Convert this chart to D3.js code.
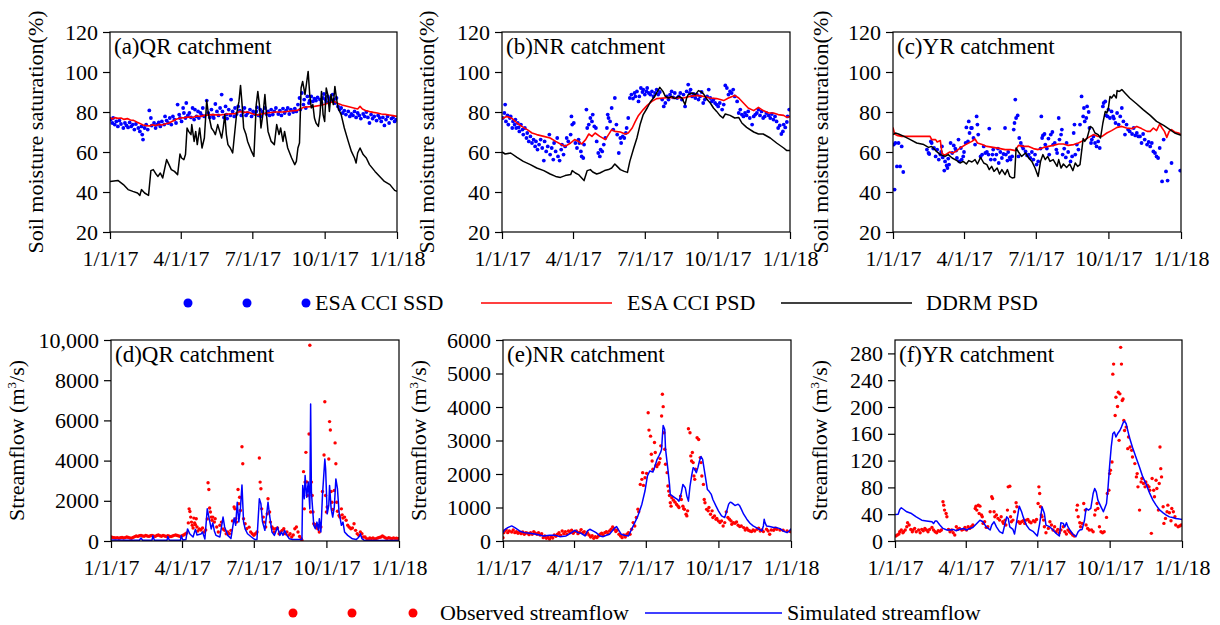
<!DOCTYPE html>
<html><head><meta charset="utf-8">
<script src="https://cdn.jsdelivr.net/npm/d3@7"></script>
</head><body style="margin:0">
<svg id="chart" width="1220" height="625" font-family="&quot;Liberation Serif&quot;" style="font-family:'Liberation Serif'"></svg>
<script>
// ---------------- DATA ----------------
const xTickDates = ["2017-01-01","2017-04-01","2017-07-01","2017-10-01","2018-01-01"];
const xTickLabels = ["1/1/17","4/1/17","7/1/17","10/1/17","1/1/18"];
const smTicks = [20,40,60,80,100,120];
const smTickLabels = ["20","40","60","80","100","120"];
const qTicksD = [0,2000,4000,6000,8000,10000];
const qTickLabelsD = ["0","2000","4000","6000","8000","10,000"];
const qTicksE = [0,1000,2000,3000,4000,5000,6000];
const qTickLabelsE = ["0","1000","2000","3000","4000","5000","6000"];
const qTicksF = [0,40,80,120,160,200,240,280];
const qTickLabelsF = ["0","40","80","120","160","200","240","280"];
const panelTitles = ["(a)QR catchment","(b)NR catchment","(c)YR catchment","(d)QR catchment","(e)NR catchment","(f)YR catchment"];
const legendTop = ["ESA CCI SSD","ESA CCI PSD","DDRM PSD"];
const legendBottom = ["Observed streamflow","Simulated streamflow"];

// [day of 2017, value]
const ssdA = [[1,76.2],[3,74.5],[4,77],[6,73.7],[8,75.3],[10,72.8],[12,75.7],[14,74],[17,72],[19,74.5],[21,73.3],[23,72.3],[25,74.8],[27,72.8],[29,73.7],[31,71.2],[33,74],[36,72],[38,70.3],[40,72.8],[41,68.7],[42,66.2],[44,72],[46,73.7],[48,71.2],[50,80.8],[52,77],[53,73.2],[56,74.5],[58,72],[60,73.7],[62,74.8],[64,72.8],[66,75.3],[69,73.7],[70,77.8],[72,75.7],[74,74.5],[76,77],[78,73.7],[80,77.8],[82,76.2],[84,74.5],[86,83.7],[88,78.7],[89,77],[91,75.3],[93,82],[94,79.5],[96,77],[97,84.5],[99,78.3],[101,79.5],[103,77.3],[105,82],[107,76.2],[108,81.2],[110,77.8],[112,80.3],[113,77],[115,79.5],[117,78.3],[118,82],[120,77.8],[123,85.7],[125,79.5],[127,77.3],[129,81.2],[131,78.3],[132,77],[134,84],[136,80.3],[138,78.3],[140,82],[142,88.7],[143,80.3],[145,77.3],[147,82.8],[148,78.7],[149,76.7],[151,81.2],[153,78.3],[154,86.2],[156,80.3],[158,77.8],[159,82],[161,79],[163,82.8],[165,80.7],[167,78.3],[169,80],[171,82],[173,78.3],[175,79.5],[178,81.2],[180,77.8],[182,80.3],[184,79],[186,80.3],[187,82.3],[189,78.3],[191,81.2],[192,77.8],[194,80],[197,82],[199,79],[201,80.3],[203,78.3],[205,81.2],[207,78.7],[209,80.3],[211,82],[214,79],[216,80.7],[218,78.3],[220,81.7],[222,79.5],[224,80.7],[226,82],[228,79],[230,81.2],[233,80],[235,81.7],[237,80.3],[239,83.7],[241,87],[242,81.2],[244,89.5],[246,83.7],[247,86.2],[249,82],[251,87.8],[253,84.5],[254,85.7],[256,87.8],[258,85.3],[260,86.7],[262,85.7],[264,87.3],[267,86.2],[269,84.5],[271,87],[272,89],[274,86.2],[275,85],[277,87.8],[279,86.7],[281,85.7],[283,88.7],[285,86.2],[286,84.5],[288,87],[290,82.8],[292,81.2],[294,82],[296,79.5],[298,80.7],[300,78.7],[303,80.3],[305,77.8],[307,79],[309,78.3],[311,80.3],[313,77.3],[315,79.5],[317,78.3],[319,76.7],[322,79],[324,77.8],[326,80],[328,77.3],[330,74.5],[332,78.7],[334,76.7],[336,77.8],[339,75.7],[341,78.3],[343,77],[345,75.3],[347,77.3],[349,73.3],[351,76.2],[353,77.8],[355,74.5],[358,76.7],[360,77.3],[362,75.3],[364,76.2]];
const psdA = [[0,77.3],[3,76.5],[6,77.2],[10,76.8],[14,77],[18,76.3],[22,76.7],[26,76],[30,75.8],[34,75],[38,74.3],[42,73.5],[46,73.2],[50,73],[54,73.6],[58,73.2],[62,73.8],[66,73.5],[70,74],[75,74.5],[80,75.5],[85,76.5],[90,77],[95,77.2],[100,77.5],[105,77.3],[110,78],[115,77.8],[120,78.3],[130,78.7],[140,78.5],[150,79],[160,79.2],[165,80.3],[170,79.8],[175,80],[182,79],[188,78.5],[195,79.2],[200,79.5],[210,80],[220,80],[230,80.5],[238,80.8],[242,81.5],[246,82.3],[250,82.5],[260,82.8],[270,83.5],[278,84.5],[285,85.3],[290,84.2],[295,83.5],[300,83],[305,82.5],[310,82],[315,81.5],[318,82.8],[321,81.5],[325,80.8],[330,80.2],[335,79.8],[340,79.5],[345,79],[350,78.8],[355,78.5],[360,78.2],[365,77.8]];
const ddrmA = [[0,45.3],[10,45.8],[17,43.7],[23,41.2],[29,40.3],[35,39.5],[38,38.3],[40,41.2],[44,39.5],[49,38.3],[52,50.7],[55,51.2],[59,48.7],[61,47.8],[64,49.5],[67,47],[72,56.2],[75,53.7],[78,51.2],[82,50.3],[86,48.7],[89,59],[91,57],[94,56.2],[96,58.7],[98,72],[100,70.3],[103,68.7],[104,73.7],[107,65.3],[109,70.3],[111,63.7],[114,72],[117,62],[120,67],[123,85.7],[125,79.5],[129,72],[132,70.3],[134,68.7],[137,73.7],[142,67],[144,72],[146,78.7],[148,68.7],[150,63.7],[153,62],[156,59.5],[161,79],[164,85.3],[166,93.3],[168,83.7],[170,72],[173,68.7],[175,65.3],[180,60.3],[183,57.8],[186,83.7],[188,90.3],[190,83.7],[192,72],[195,80.3],[197,88.7],[199,78.7],[201,70.3],[205,65.3],[209,63.7],[212,73.7],[215,68.7],[217,72],[220,65.3],[222,70.3],[226,62],[231,57],[235,53.7],[237,55.3],[239,62],[241,64.5],[243,92],[245,95.3],[248,88.7],[250,94.5],[252,100.3],[254,88.7],[256,82],[258,83.7],[260,77],[262,74.5],[265,72.8],[267,78.7],[269,90.3],[271,78.7],[273,75.3],[275,92],[277,88.7],[279,80.3],[281,88.7],[284,83.7],[286,92.8],[288,87],[290,82],[294,78.7],[298,72],[303,65.3],[307,60.3],[311,57],[313,54.5],[315,59.5],[318,62],[322,58.7],[326,57],[330,53.7],[337,50.3],[343,47.8],[349,45.3],[356,43.7],[362,40.8],[365,40.3]];

const ssdB = [[1,77],[3,79.5],[4,83.7],[5,75.3],[7,78.3],[8,73.7],[10,77],[11,77.8],[13,72],[14,75.3],[16,73.7],[17,76.2],[18,72],[20,74.5],[21,72.3],[22,70.3],[24,73.7],[26,71.2],[27,68.7],[29,72],[31,67],[32,69.5],[34,65.3],[36,67.8],[38,64.5],[40,66.2],[42,62.8],[43,65.3],[45,61.2],[47,63.7],[49,66.2],[51,62],[53,55.7],[54,65.3],[56,60.3],[58,62.8],[60,68.7],[61,58.7],[63,62],[65,56.2],[66,64.5],[68,60.3],[70,67],[71,57.8],[73,55.7],[75,61.2],[76,63.7],[78,58.7],[80,62.8],[82,67],[84,65.3],[87,68.7],[88,77.8],[89,73.7],[91,74.5],[93,64.5],[95,62],[97,66.2],[98,64.5],[100,60.3],[101,57.8],[103,57],[104,63.7],[107,81.2],[108,72],[110,73.7],[112,77],[114,75.3],[115,78.7],[117,72.8],[119,72],[120,65.3],[122,59.5],[124,57.8],[125,61.2],[127,60.3],[129,63.7],[131,67],[133,72],[134,78.7],[135,77],[137,75.3],[139,82],[141,71.2],[143,87],[145,73.7],[146,68.7],[148,59.5],[150,67],[151,64.5],[153,67.8],[155,67],[157,69.5],[158,72],[160,77],[162,87],[164,88.7],[166,86.7],[168,89.5],[169,87.8],[171,90.3],[173,85.3],[174,87.8],[176,92],[178,90],[179,91.2],[181,88.7],[183,90.3],[184,92],[186,89.5],[188,88.7],[190,90.3],[192,87.8],[194,89.5],[196,91.2],[198,88.7],[200,90],[203,86.2],[205,82.8],[207,84.5],[209,87.8],[211,86.2],[213,88.7],[215,90.3],[217,87.3],[219,89.5],[222,87],[224,87.8],[226,89.5],[228,86.2],[230,88.7],[232,82.8],[234,90.3],[236,93.7],[238,89.5],[239,91.2],[241,87.8],[243,89],[245,87],[247,88.7],[249,86.2],[251,87.8],[253,90],[255,84.5],[257,86.2],[260,87.8],[262,91.2],[264,87],[266,85.3],[268,86.2],[270,84.5],[272,83.7],[274,82.8],[276,84.5],[279,81.2],[281,83.7],[283,93.3],[285,92],[287,88.7],[289,90.3],[291,89.5],[293,91.2],[295,87.8],[298,85.3],[300,79.5],[302,81.2],[304,78.7],[306,77.8],[308,79.5],[310,78.3],[312,80.3],[314,77],[317,73.7],[319,77.8],[321,78.7],[323,79.5],[325,81.2],[327,78.3],[329,80.3],[331,77],[333,77.8],[335,79.5],[338,78.3],[340,77],[342,79],[344,76.2],[346,77.8],[348,75.3],[350,72],[352,73.3],[354,69],[356,70.3],[357,73.7],[359,72.3],[361,75],[362,77.8],[364,81.2]];
const psdB = [[0,76.7],[6,77.8],[13,76.7],[19,74.5],[25,72.8],[32,71.2],[38,69.5],[44,68.7],[53,67.8],[61,67],[68,65.3],[74,64],[80,62.8],[87,64.5],[92,66.2],[97,65.3],[101,64],[106,66.2],[110,69],[114,67.8],[118,69.5],[124,67.8],[131,66.2],[135,68.7],[139,71.2],[143,70.3],[150,70],[156,69],[160,69.5],[165,72],[169,75.3],[173,78.3],[179,81.2],[184,83.3],[190,85.3],[196,86.7],[205,87],[213,87.3],[222,87],[230,87],[238,87.8],[247,88.3],[255,87.8],[264,87],[272,86.7],[281,85.7],[287,87],[295,88.3],[300,87],[306,84.5],[312,82],[319,80.7],[325,82.3],[331,80.7],[338,79.5],[344,79.5],[350,78.7],[357,78.3],[361,77.3],[365,77.8]];
const ddrmB = [[0,60],[4,59],[11,59.5],[19,57.3],[27,55.3],[36,53.7],[44,52],[53,50.7],[61,49],[68,47.8],[74,47.3],[80,48.2],[87,48.7],[89,50.7],[93,49.5],[97,48.7],[101,47],[104,45.7],[108,50.7],[112,51.2],[115,50],[120,49],[124,49.5],[130,50.7],[135,51.2],[139,52],[143,54],[146,52.8],[150,51.2],[155,50.3],[159,49.8],[162,55.3],[167,62],[171,67],[175,73.7],[179,78.7],[184,82],[188,85],[192,87],[196,89.5],[200,92.3],[204,90.3],[207,87.8],[211,87],[215,87.8],[219,86.7],[224,87.8],[228,87],[232,83.7],[234,87],[236,88.7],[241,89.5],[245,88.7],[249,90.7],[253,90],[256,88.7],[260,86.2],[264,84.5],[268,82],[272,80.3],[276,78.3],[280,77],[283,79],[289,78.3],[295,77],[300,77.3],[304,74.5],[310,72.3],[319,70],[325,69],[331,69],[340,67],[348,64.5],[357,62],[361,60.7],[365,60.7]];

const ssdC = [[1,63.7],[2,41.2],[3,64.5],[5,52.8],[7,64.5],[9,52.8],[11,62.8],[13,50],[43,61.2],[45,59.5],[46,59],[48,65.3],[49,64.5],[51,61.7],[52,62],[54,57.8],[56,61.2],[58,56.2],[60,58.7],[61,60],[62,62.8],[63,57.3],[65,50.7],[66,55.3],[68,53.3],[69,52],[70,56.7],[71,53.7],[73,64.5],[75,59.5],[77,63.3],[79,61.7],[80,60.7],[81,57],[83,66.2],[84,55.3],[86,62],[87,56.2],[89,57.8],[90,60],[92,64.5],[93,72.3],[95,65.3],[96,75.3],[97,69.5],[99,72],[100,72],[102,67],[104,63.7],[106,77.8],[107,73.7],[108,68.7],[111,57.8],[113,58.7],[115,62.8],[117,59.5],[119,60],[121,58.7],[122,71.7],[124,56.2],[126,58.7],[127,61.2],[129,56.2],[131,58.7],[133,61.7],[134,54.5],[136,60],[138,57],[140,59],[142,72],[143,58.7],[145,55.7],[146,60],[148,57.3],[149,56.2],[151,57.8],[153,71.2],[154,74.5],[155,86.2],[156,77],[158,78.3],[159,57.8],[160,67],[162,64.5],[164,62.8],[165,61.7],[168,60.3],[170,58.3],[172,58.7],[174,57],[176,60],[178,56.2],[180,58.7],[182,53.7],[184,55.3],[187,61.7],[188,77.8],[189,67],[190,68.3],[192,69],[193,63.7],[195,61.7],[197,66.7],[198,58.7],[200,68.7],[202,70],[203,63.7],[205,64.5],[207,61.2],[208,59.5],[210,77],[211,66.2],[213,68.7],[214,71.2],[215,58.7],[217,61.7],[219,57.3],[220,64.5],[222,60],[225,55.3],[227,57.8],[229,69.5],[230,73.7],[231,58.7],[233,63.7],[235,61.2],[237,73.7],[239,87.8],[241,77.8],[242,82],[243,75.3],[245,77],[246,82.8],[248,80],[249,72],[251,64.5],[252,66.2],[254,67.8],[256,64.5],[258,62.8],[260,65.3],[262,62],[266,82.8],[267,84.5],[269,85.3],[270,78.3],[272,77.8],[273,81.2],[275,77],[277,80.3],[279,77.8],[280,76.7],[282,74.5],[284,79.5],[286,73.7],[288,77.8],[290,82],[292,75.3],[294,68.7],[296,73.7],[298,71.2],[300,70.3],[303,69],[305,72],[307,68.3],[309,69.5],[311,67.8],[313,67.8],[315,64.5],[317,69],[319,66.2],[322,63.7],[324,65],[326,62.8],[328,64.5],[330,60.3],[332,59.5],[334,57.8],[336,57],[338,62],[341,45.3],[343,66.2],[346,50.3],[348,45.7],[353,54.5],[364,50.7]];
const psdC = [[0,72.3],[2,69],[5,68.3],[11,67.8],[22,67.8],[35,67.8],[47,67.8],[49,66.2],[54,66.2],[56,65],[60,65.7],[62,59.5],[65,58.3],[68,59],[72,60],[76,59.5],[81,60.7],[85,62],[92,63.7],[100,65.3],[104,66.5],[107,64.5],[113,63.7],[119,62.8],[127,62.3],[136,61.7],[142,61.2],[149,61.2],[155,60.7],[159,63.3],[165,62.8],[172,62.8],[178,61.7],[184,61.2],[191,62.3],[197,62.8],[203,63.3],[210,64],[216,64],[222,63.3],[229,63.7],[235,64.5],[241,65.7],[248,67.3],[254,68.7],[260,67.8],[265,67.8],[271,69.5],[277,70.7],[284,72.3],[290,72.8],[296,72],[303,71.7],[309,72.8],[315,71.7],[322,70.3],[326,70.3],[330,72],[334,70.7],[338,74],[341,72],[344,70.3],[347,67.3],[350,70.3],[353,71.2],[357,70],[362,69.5],[365,68.7]];
const ddrmC = [[0,68.7],[3,69.5],[7,69],[14,67.8],[22,66.2],[30,64.5],[39,63.7],[45,62.3],[49,62.8],[54,60.7],[60,58.7],[66,57.8],[70,58.7],[75,57],[81,55.7],[85,54.5],[89,55.3],[93,54],[96,55.7],[100,55],[104,56.2],[107,54],[111,57.3],[115,54.5],[119,53.7],[122,51.2],[125,52.8],[128,50.3],[132,52],[135,49],[138,51.2],[142,48.7],[145,51.2],[148,47.8],[151,47],[154,47.3],[156,62],[159,60],[163,57.8],[168,59.5],[172,57],[176,55.3],[180,52],[184,47.8],[187,55.3],[190,58.7],[193,56.2],[196,57.8],[199,55.3],[203,56.2],[208,52.8],[210,56.2],[213,52],[216,54],[220,52.3],[224,54],[228,50.7],[231,54.5],[234,52.8],[237,53.7],[241,66.7],[243,65.3],[246,67],[250,72.8],[253,72],[256,69.5],[260,68.7],[263,67],[266,74.5],[269,80.3],[271,79.5],[273,82],[275,87.8],[277,87],[280,88.7],[283,87],[284,90.7],[287,90.3],[290,91.2],[294,89.5],[300,87],[309,84],[317,81.2],[326,78.3],[334,75.3],[343,73.3],[351,71.2],[357,69.5],[365,68.3]];

const obsD = [[0,200],[2,180],[4,160],[6,150],[8,170],[10,140],[12,160],[14,180],[16,150],[18,170],[20,200],[22,180],[24,150],[26,140],[28,180],[30,220],[32,250],[34,230],[36,260],[38,280],[40,250],[42,240],[44,270],[46,250],[48,230],[50,260],[52,280],[54,250],[56,230],[58,270],[60,300],[62,260],[64,240],[66,280],[68,250],[70,230],[72,260],[74,240],[76,220],[78,250],[80,280],[82,300],[84,270],[86,250],[88,230],[90,260],[92,300],[94,350],[96,400],[98,900],[99,1600],[100,1470],[101,1190],[102,940],[103,780],[104,650],[105,1140],[106,900],[107,810],[108,1110],[109,700],[110,500],[112,600],[114,550],[116,650],[118,450],[120,550],[122,1100],[123,2900],[124,2560],[125,1640],[126,1440],[127,1190],[128,1030],[129,1190],[131,940],[132,1110],[134,700],[136,450],[138,780],[140,940],[142,600],[144,530],[146,360],[148,450],[150,360],[152,530],[154,1000],[156,1690],[157,1600],[158,1110],[159,940],[161,2560],[162,1850],[163,2180],[164,1520],[166,4690],[167,3840],[168,1110],[170,860],[172,610],[175,690],[177,450],[179,360],[181,280],[183,360],[185,450],[188,4130],[189,2930],[190,2600],[191,1600],[193,1190],[194,940],[196,700],[198,1350],[199,2100],[201,1440],[202,940],[204,700],[206,610],[207,450],[209,610],[211,650],[213,360],[215,450],[217,530],[219,610],[221,360],[223,450],[225,280],[227,360],[229,200],[231,300],[233,610],[235,700],[237,450],[239,230],[241,110],[242,40],[244,3450],[245,1600],[246,2930],[247,4410],[248,2940],[249,2260],[251,5320],[252,9740],[253,1440],[254,2930],[255,2260],[256,1440],[257,860],[259,810],[260,700],[262,610],[264,450],[266,700],[268,2460],[270,4280],[271,6930],[272,2260],[273,1440],[274,1690],[276,4080],[277,5940],[278,5520],[279,2460],[280,1930],[281,1570],[283,2510],[284,4880],[285,3840],[286,1930],[287,1480],[289,1270],[290,1190],[292,1600],[293,1300],[294,1140],[296,1190],[298,1030],[300,780],[302,690],[304,610],[306,650],[308,860],[310,530],[312,360],[314,280],[316,450],[318,360],[320,200],[322,200],[324,120],[326,90],[328,150],[330,120],[332,150],[334,100],[336,120],[338,150],[340,180],[342,200],[344,250],[346,200],[348,150],[350,130],[352,160],[354,140],[356,120],[358,150],[360,130],[362,140],[364,120]];
const simD = [[0,50],[20,40],[36,40],[38,150],[40,40],[52,40],[53,260],[55,40],[71,40],[72,220],[74,40],[88,40],[89,260],[91,50],[95,80],[97,600],[100,350],[104,200],[107,580],[109,300],[114,350],[116,450],[119,100],[122,1600],[125,1000],[127,600],[129,900],[131,500],[133,280],[138,200],[142,1190],[144,700],[148,280],[152,120],[156,1140],[158,780],[160,1930],[162,950],[164,1600],[166,2790],[168,950],[170,600],[173,360],[178,200],[182,80],[185,80],[188,2100],[190,1850],[192,950],[195,530],[199,1930],[201,1270],[204,450],[207,280],[211,690],[214,280],[216,450],[218,280],[220,530],[223,280],[226,110],[230,80],[242,80],[243,2760],[245,2100],[246,3260],[248,2180],[250,2930],[252,1600],[253,6810],[254,2430],[257,780],[259,610],[261,940],[263,530],[264,1110],[266,450],[268,2260],[271,4080],[272,3590],[274,1350],[276,1770],[277,2760],[279,1600],[281,1190],[283,1690],[285,3090],[287,2600],[289,1440],[292,780],[294,940],[296,450],[300,280],[306,110],[311,80],[313,150],[315,250],[316,360],[318,120],[321,30],[365,30]];

const obsE = [[0,100],[1,250],[2,300],[4,330],[6,250],[8,300],[11,270],[13,330],[15,250],[17,280],[19,230],[21,260],[23,220],[25,270],[27,200],[29,250],[31,230],[33,190],[35,250],[37,200],[39,280],[41,230],[43,200],[45,250],[47,180],[49,220],[51,100],[53,150],[55,80],[57,120],[59,60],[61,130],[63,90],[65,180],[67,140],[69,200],[71,250],[73,170],[75,300],[77,220],[79,280],[81,200],[83,300],[85,250],[87,320],[89,230],[91,280],[93,300],[95,220],[97,260],[99,340],[101,250],[103,280],[105,200],[107,250],[109,180],[111,120],[113,160],[115,80],[117,130],[119,100],[121,150],[123,200],[125,230],[127,170],[129,250],[131,280],[133,220],[135,300],[137,350],[139,420],[141,350],[143,280],[145,330],[147,200],[149,150],[151,100],[153,180],[155,120],[157,200],[159,250],[161,200],[163,350],[165,550],[167,450],[169,700],[171,950],[172,870],[174,1690],[176,1840],[177,2040],[178,1660],[180,1890],[182,2020],[184,3830],[185,3310],[187,3130],[188,2590],[189,2390],[190,2140],[192,2940],[193,2640],[194,2260],[195,2220],[197,2290],[198,2340],[199,2460],[200,2840],[201,3730],[202,4380],[203,4010],[204,3230],[205,2740],[206,2290],[208,2040],[209,1640],[210,1490],[211,1360],[212,1140],[213,1040],[214,1290],[216,1220],[218,1160],[220,1090],[222,1040],[223,1000],[225,1340],[226,1240],[228,1040],[229,965],[230,945],[232,800],[233,750],[234,900],[235,3350],[237,3230],[238,2540],[239,2390],[240,2640],[241,2340],[242,1940],[243,1840],[244,2140],[246,3080],[248,3030],[250,2490],[251,2340],[252,1940],[254,1690],[255,1240],[256,1140],[258,945],[260,900],[261,1000],[263,800],[265,900],[266,700],[268,750],[270,650],[271,670],[273,600],[275,550],[277,600],[279,450],[281,550],[283,870],[285,700],[287,650],[289,600],[290,500],[292,550],[294,530],[296,570],[298,470],[300,430],[302,450],[305,400],[307,330],[309,380],[311,320],[313,300],[315,280],[317,330],[319,300],[322,350],[324,380],[326,300],[328,330],[330,280],[334,350],[336,300],[338,200],[340,330],[343,320],[345,380],[347,350],[351,330],[355,320],[360,300],[364,280]];
const simE = [[0,250],[2,330],[6,400],[11,450],[15,400],[21,300],[27,250],[34,230],[42,200],[51,150],[59,170],[66,170],[72,130],[80,150],[87,250],[91,320],[95,250],[99,230],[104,150],[107,300],[110,350],[114,300],[118,250],[123,150],[127,130],[131,170],[135,200],[142,400],[144,430],[146,350],[150,200],[154,170],[159,150],[163,350],[167,550],[171,750],[176,1100],[180,1500],[183,1940],[186,2090],[190,2060],[192,2190],[195,2420],[198,2560],[200,2660],[201,2740],[202,3130],[203,3450],[205,3330],[206,2740],[209,2140],[211,1690],[212,1390],[215,1340],[218,1290],[221,1240],[223,1190],[226,1440],[228,1690],[231,1590],[233,1340],[235,1190],[237,1640],[239,1940],[241,2190],[243,2140],[245,2040],[247,2190],[249,2390],[251,2520],[253,2440],[255,2140],[257,1840],[259,1540],[261,1490],[264,1390],[266,1240],[270,1040],[273,900],[277,750],[281,700],[283,850],[286,1100],[288,1160],[290,1140],[292,1100],[294,1060],[296,1080],[298,1100],[300,1050],[302,950],[305,800],[309,650],[313,530],[317,450],[321,400],[326,330],[328,300],[330,450],[331,650],[332,550],[334,450],[338,430],[343,400],[347,400],[351,370],[355,300],[360,250],[363,300],[365,370]];

const obsF = [[1,7.4],[3,8.9],[5,10.4],[6,13.9],[8,16.4],[10,12.4],[11,13.9],[13,16.4],[15,21.3],[16,27.3],[18,23.8],[20,17.3],[22,13.9],[23,16.4],[25,18.8],[27,13.9],[30,16.4],[32,12.4],[34,17.3],[36,15.4],[38,18.8],[40,16.4],[42,13.9],[44,17.3],[47,20.3],[49,16.4],[51,13.9],[53,12.4],[55,15.4],[57,14.4],[59,16.4],[61,58.5],[62,53.5],[63,46.1],[65,41.1],[66,36.2],[68,17.3],[70,13.9],[72,16.4],[74,12.4],[76,8.9],[78,21.3],[80,17.3],[82,18.8],[85,16.4],[87,17.3],[89,20.3],[91,16.4],[93,21.3],[95,18.8],[97,21.3],[99,23.8],[102,48.6],[103,52],[104,46.1],[106,53.5],[107,41.1],[108,52],[110,38.7],[111,36.2],[112,26.3],[114,28.8],[116,20.3],[118,21.3],[121,43.6],[123,66],[124,63.5],[126,43.6],[127,36.2],[129,38.7],[131,33.7],[133,31.2],[135,36.2],[137,28.8],[138,26.3],[140,31.2],[141,23.8],[143,46.1],[144,80.8],[146,81.8],[147,36.2],[148,28.8],[150,31.2],[152,43.6],[154,57],[155,51.1],[157,28.8],[159,26.3],[161,28.8],[163,30.2],[165,26.3],[167,31.2],[169,32.2],[171,28.8],[173,27.3],[176,30.2],[178,28.8],[180,32.2],[182,56],[183,80.8],[184,70.9],[185,51.1],[186,38.7],[187,36.2],[189,31.2],[190,21.3],[192,12.4],[195,18.8],[197,28.8],[199,23.8],[201,16.4],[203,21.3],[205,13.9],[207,17.3],[209,12.4],[211,16.4],[214,21.3],[216,13.9],[218,10.4],[220,16.4],[222,13.9],[224,11.4],[226,8.9],[228,7.4],[231,46.1],[232,53.5],[233,36.2],[235,27.3],[236,21.3],[238,26.3],[240,56],[242,46.1],[243,23.8],[245,18.8],[247,16.4],[250,16.4],[252,13.9],[254,38.7],[255,46.1],[257,56],[258,48.6],[260,21.3],[262,13.9],[264,12.4],[266,13.9],[269,35.2],[270,70.9],[272,75.8],[273,100.6],[274,105.6],[276,118],[277,249],[278,264],[280,187.4],[281,214.6],[283,200.8],[284,222],[285,150.2],[286,219.6],[287,289],[288,264],[289,209.7],[290,212],[291,180],[292,165],[294,170],[296,137.8],[297,155.2],[299,140.3],[301,135.3],[302,125.4],[305,115.5],[307,95.7],[308,100.6],[309,80.8],[311,46.1],[313,88.2],[314,93.2],[316,85.8],[318,80.8],[319,88.2],[321,83.3],[323,80.8],[324,75.8],[326,11.4],[327,93.2],[329,75.8],[330,66],[332,90.7],[333,78.3],[335,46.1],[336,85.8],[337,140.3],[338,108],[339,95.7],[341,51.1],[342,26.3],[344,33.7],[346,43.6],[347,53.5],[349,42.1],[351,30.2],[352,48.6],[354,43.6],[356,36.2],[357,23.8],[360,21.3],[362,22.3],[364,23.8]];
const simF = [[0,39.7],[4,40],[6,47],[8,49.6],[11,47],[15,43.6],[21,41],[27,36],[34,31],[40,30],[47,28.7],[49,26],[51,29.7],[53,30],[57,23.8],[61,18.8],[66,16.4],[70,16.4],[74,17.3],[78,15.4],[82,17.3],[87,18.8],[91,16.4],[95,18.8],[99,20],[104,26],[108,31],[112,28.7],[116,21],[121,16.4],[123,23.8],[126,28.7],[129,21],[133,13.9],[137,11.4],[142,36],[144,33.7],[146,21],[150,17.3],[152,10.4],[155,31],[158,52],[161,43.6],[163,36],[167,23.8],[171,17.3],[176,13.9],[181,7.4],[184,26],[187,51],[190,41],[192,23.8],[197,21],[201,16.4],[205,11.4],[209,7.4],[211,27.3],[214,26.3],[216,21],[218,27.3],[220,21],[222,17.3],[226,10.4],[230,6.4],[233,13.9],[235,16.4],[238,17.3],[241,31],[243,48.6],[246,46],[249,48.6],[252,70.9],[254,78.3],[256,73.4],[258,61],[262,51],[265,43.6],[269,56],[271,80.8],[273,113],[275,140.3],[277,160],[279,162.6],[281,155.2],[283,160],[286,165],[288,170],[290,176],[292,179],[294,175],[296,165],[298,155.2],[302,140],[307,123],[311,110],[315,96],[319,86],[324,71],[328,61],[332,53.5],[336,47],[341,42],[345,38.7],[349,36],[353,35],[357,33.7],[362,32.7],[365,32.2]];

// ---------------- DRAWING ----------------
const FONT = '"Liberation Serif"';
const svg = d3.select("#chart");
const t0 = Date.UTC(2017,0,1), t1 = Date.UTC(2018,0,1);
const toDate = d => new Date(t0 + d*86400000);
const tickDates = xTickDates.map(s => new Date(s + "T00:00:00Z"));
const BLUE = "#0000ff", RED = "#ff0000", BLACK = "#000000";
const FS = 22;

function txt(sel) {
  return sel.attr("font-family", FONT).style("font-family", FONT).attr("fill", BLACK);
}

function panel(p) {
  const x = d3.scaleUtc().domain([new Date(t0), new Date(t1)]).range([p.x0, p.x1]);
  const y = d3.scaleLinear().domain(p.yDomain).range([p.y1, p.y0]);
  const g = svg.append("g");

  const xa = g.append("g").attr("transform", `translate(0,${p.y1})`)
    .call(d3.axisBottom(x).tickValues(tickDates).tickFormat((d,i)=>xTickLabels[i]).tickSize(7).tickPadding(11).tickSizeOuter(0));
  const ya = g.append("g").attr("transform", `translate(${p.x0},0)`)
    .call(d3.axisLeft(y).tickValues(p.ticks).tickFormat((d,i)=>p.tickLabels[i]).tickSize(7).tickPadding(5).tickSizeOuter(0));
  [xa, ya].forEach(a => {
    a.attr("font-family", null).attr("font-size", null);
    a.select(".domain").remove();
    a.selectAll(".tick line").attr("stroke", BLACK).attr("stroke-width", 1.2);
    txt(a.selectAll(".tick text")).attr("font-size", FS);
  });

  const clipId = "clip" + p.id;
  g.append("clipPath").attr("id", clipId).append("rect")
    .attr("x", p.x0).attr("y", p.y0).attr("width", p.x1 - p.x0).attr("height", p.y1 - p.y0);
  const body = g.append("g").attr("clip-path", `url(#${clipId})`);

  p.layers.forEach(L => {
    if (L.type === "dots") {
      body.append("g").selectAll("circle").data(L.data).join("circle")
        .attr("cx", d => x(toDate(d[0]))).attr("cy", d => y(d[1])).attr("r", L.r).attr("fill", L.color);
    } else {
      body.append("path").datum(L.data)
        .attr("d", d3.line().x(d => x(toDate(d[0]))).y(d => y(d[1])))
        .attr("fill", "none").attr("stroke", L.color).attr("stroke-width", L.w).attr("stroke-linejoin", "round");
    }
  });

  g.append("rect").attr("x", p.x0).attr("y", p.y0).attr("width", p.x1 - p.x0).attr("height", p.y1 - p.y0)
    .attr("fill", "none").attr("stroke", BLACK).attr("stroke-width", 1.2);

  txt(g.append("text")).attr("x", p.x0 + 4).attr("y", p.y0 + 22).attr("font-size", 23).text(p.title);

  const lab = txt(g.append("text")).attr("transform", `translate(${p.labX},${(p.y0 + p.y1) / 2}) rotate(-90)`)
    .attr("text-anchor", "middle").attr("font-size", FS);
  if (p.sup) {
    lab.append("tspan").text("Streamflow (m");
    lab.append("tspan").text("3").attr("font-size", 13).attr("dy", -8);
    lab.append("tspan").text("/s)").attr("dy", 8);
  } else {
    lab.text(p.label);
  }
}

const smLabel = "Soil moisture saturation(%)";
panel({id:"a", x0:110, x1:397, y0:32, y1:232, yDomain:[20,120], ticks:smTicks, tickLabels:smTickLabels, title:panelTitles[0], label:smLabel, labX:43,
  layers:[{type:"dots",data:ssdA,color:BLUE,r:1.9},{type:"line",data:psdA,color:RED,w:1.6},{type:"line",data:ddrmA,color:BLACK,w:1.5}]});
panel({id:"b", x0:502, x1:790, y0:32, y1:232, yDomain:[20,120], ticks:smTicks, tickLabels:smTickLabels, title:panelTitles[1], label:smLabel, labX:434,
  layers:[{type:"dots",data:ssdB,color:BLUE,r:1.9},{type:"line",data:psdB,color:RED,w:1.6},{type:"line",data:ddrmB,color:BLACK,w:1.5}]});
panel({id:"c", x0:893, x1:1181, y0:32, y1:232, yDomain:[20,120], ticks:smTicks, tickLabels:smTickLabels, title:panelTitles[2], label:smLabel, labX:828,
  layers:[{type:"dots",data:ssdC,color:BLUE,r:1.9},{type:"line",data:psdC,color:RED,w:1.6},{type:"line",data:ddrmC,color:BLACK,w:1.5}]});
panel({id:"d", x0:111, x1:399, y0:340, y1:541, yDomain:[0,10000], ticks:qTicksD, tickLabels:qTickLabelsD, title:panelTitles[3], sup:true, labX:24,
  layers:[{type:"dots",data:obsD,color:RED,r:1.7},{type:"line",data:simD,color:BLUE,w:1.5}]});
panel({id:"e", x0:503, x1:791, y0:340, y1:541, yDomain:[0,6000], ticks:qTicksE, tickLabels:qTickLabelsE, title:panelTitles[4], sup:true, labX:426,
  layers:[{type:"dots",data:obsE,color:RED,r:1.7},{type:"line",data:simE,color:BLUE,w:1.5}]});
panel({id:"f", x0:895, x1:1182, y0:340, y1:541, yDomain:[0,300], ticks:qTicksF, tickLabels:qTickLabelsF, title:panelTitles[5], sup:true, labX:827,
  layers:[{type:"dots",data:obsF,color:RED,r:1.7},{type:"line",data:simF,color:BLUE,w:1.5}]});

// ---------------- LEGENDS ----------------
function legendRow(yc, items) {
  const g = svg.append("g");
  items.forEach(it => {
    if (it.type === "dots") {
      it.xs.forEach(xx => g.append("circle").attr("cx", xx).attr("cy", yc).attr("r", 4.5).attr("fill", it.color));
    } else if (it.type === "line") {
      g.append("line").attr("x1", it.xa).attr("x2", it.xb).attr("y1", yc).attr("y2", yc).attr("stroke", it.color).attr("stroke-width", 1.6);
    } else {
      txt(g.append("text")).attr("x", it.x).attr("y", yc + 7).attr("font-size", FS).text(it.text);
    }
  });
}
legendRow(303, [
  {type:"dots", xs:[188,247,306], color:BLUE},
  {type:"text", x:315, text:legendTop[0]},
  {type:"line", xa:481, xb:612, color:RED},
  {type:"text", x:627, text:legendTop[1]},
  {type:"line", xa:781, xb:912, color:BLACK},
  {type:"text", x:926, text:legendTop[2]}
]);
legendRow(613, [
  {type:"dots", xs:[293,352,413], color:RED},
  {type:"text", x:440, text:legendBottom[0]},
  {type:"line", xa:645, xb:782, color:BLUE},
  {type:"text", x:787, text:legendBottom[1]}
]);
</script>
</body></html>
